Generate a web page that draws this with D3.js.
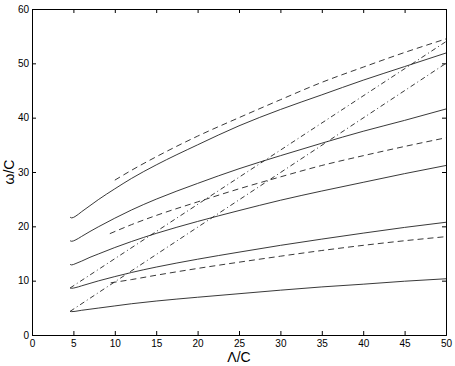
<!DOCTYPE html>
<html>
<head>
<meta charset="utf-8">
<script src="https://cdn.jsdelivr.net/npm/d3@7"></script>
<style>
  body { margin: 0; background: #fff; }
  svg { display: block; font-family: "Liberation Sans", Arial, sans-serif; }
</style>
</head>
<body>
<svg id="chart" width="455" height="366"></svg>
<script>
// x grid for the solid curves
var solidX = [4.6, 4.8, 5.2, 6, 7, 8, 10, 12, 15, 20, 25, 30, 35, 40, 45, 50];
var solid1 = [4.35, 4.3, 4.35, 4.55, 4.75, 4.95, 5.35, 5.75, 6.25, 6.95, 7.6, 8.25, 8.85, 9.35, 9.9, 10.35];
var solid2 = [8.65, 8.6, 8.7, 9.05, 9.5, 9.95, 10.75, 11.5, 12.5, 13.95, 15.25, 16.5, 17.65, 18.75, 19.8, 20.75];
var solid3 = [13.0, 12.9, 13.1, 13.6, 14.3, 14.9, 16.1, 17.2, 18.7, 20.9, 22.9, 24.8, 26.5, 28.1, 29.7, 31.2];
var solid4 = [17.35, 17.25, 17.45, 18.15, 19.05, 19.9, 21.5, 23.0, 25.0, 27.9, 30.6, 33.0, 35.3, 37.5, 39.5, 41.6];
var solid5 = [21.7, 21.55, 21.8, 22.7, 23.8, 24.9, 26.9, 28.8, 31.3, 35.0, 38.5, 41.5, 44.2, 46.9, 49.4, 51.9];

// dashed curves
var dash1X = [9.5, 12, 15, 20, 25, 30, 35, 40, 45, 50];
var dash1 = [9.6, 10.2, 11.0, 12.25, 13.4, 14.5, 15.55, 16.5, 17.35, 18.1];
var dash2X = [9.4, 12, 15, 20, 25, 30, 35, 40, 45, 50];
var dash2 = [18.65, 20.3, 22.0, 24.5, 26.9, 29.1, 31.2, 33.0, 34.7, 36.3];
var dash3X = [10, 12, 15, 20, 25, 30, 35, 40, 45, 50];
var dash3 = [28.5, 30.3, 32.8, 36.6, 40.0, 43.3, 46.5, 49.3, 52.0, 54.5];

// dash-dot straight lines
var ddX = [4.6, 50];
var dd1 = [4.35, 50.0];
var dd2 = [8.65, 54.0];

var xTicks = [0, 5, 10, 15, 20, 25, 30, 35, 40, 45, 50];
var yTicks = [0, 10, 20, 30, 40, 50, 60];

var margin = { top: 9, right: 9, bottom: 31, left: 32 };
var width = 455 - margin.left - margin.right;
var height = 366 - margin.top - margin.bottom;

var svg = d3.select("#chart").append("g")
    .attr("transform", "translate(" + margin.left + "," + margin.top + ")");

var x = d3.scaleLinear().domain([0, 50]).range([0, width]);
var y = d3.scaleLinear().domain([0, 60]).range([height, 0]);

// axes, MATLAB style box with inward ticks on all sides
svg.append("g")
    .attr("transform", "translate(0," + height + ")")
    .call(d3.axisBottom(x).tickValues(xTicks).tickSize(-4).tickPadding(5));
svg.append("g")
    .call(d3.axisTop(x).tickValues(xTicks).tickSize(-4).tickFormat(""));
svg.append("g")
    .call(d3.axisLeft(y).tickValues(yTicks).tickSize(-4).tickPadding(3));
svg.append("g")
    .attr("transform", "translate(" + width + ",0)")
    .call(d3.axisRight(y).tickValues(yTicks).tickSize(-4).tickFormat(""));

svg.selectAll(".domain").attr("stroke", "#000");
svg.selectAll(".tick line").attr("stroke", "#000");
svg.selectAll(".tick text").style("font-size", "10px").attr("fill", "#000");

var line = d3.line()
    .x(function (d) { return x(d[0]); })
    .y(function (d) { return y(d[1]); })
    .curve(d3.curveMonotoneX);

function zip(xs, ys) {
    return xs.map(function (v, i) { return [v, ys[i]]; });
}

var series = [
    { xs: solidX, ys: solid1, dash: null },
    { xs: solidX, ys: solid2, dash: null },
    { xs: solidX, ys: solid3, dash: null },
    { xs: solidX, ys: solid4, dash: null },
    { xs: solidX, ys: solid5, dash: null },
    { xs: dash1X, ys: dash1, dash: "6,4" },
    { xs: dash2X, ys: dash2, dash: "6,4" },
    { xs: dash3X, ys: dash3, dash: "6,4" },
    { xs: ddX, ys: dd1, dash: "5,3,1,3" },
    { xs: ddX, ys: dd2, dash: "5,3,1,3" }
];

svg.append("g")
    .selectAll("path")
    .data(series)
    .enter()
    .append("path")
    .attr("d", function (d) { return line(zip(d.xs, d.ys)); })
    .attr("fill", "none")
    .attr("stroke", "#222")
    .attr("stroke-width", 0.9)
    .attr("stroke-dasharray", function (d) { return d.dash; });

// axis labels
svg.append("text")
    .attr("x", width / 2)
    .attr("y", height + 27)
    .attr("text-anchor", "middle")
    .style("font-size", "14px")
    .text("Λ/C");

svg.append("text")
    .attr("transform", "translate(" + (14 - margin.left) + "," + (height / 2) + ") rotate(-90)")
    .attr("text-anchor", "middle")
    .style("font-size", "14px")
    .text("ω/C");
</script>
</body>
</html>
